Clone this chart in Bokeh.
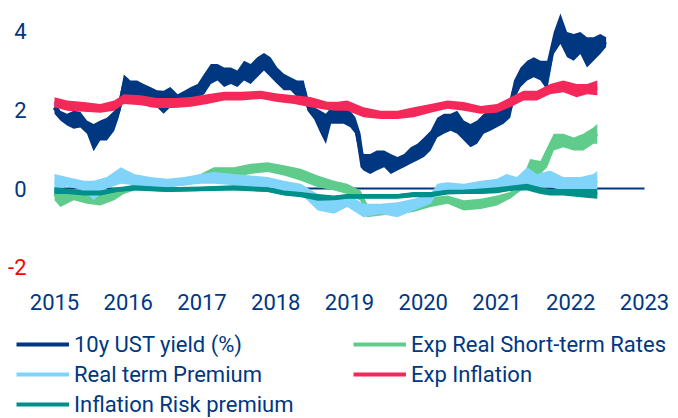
from bokeh.plotting import figure
from bokeh.models import ColumnDataSource, Legend, LegendItem
from bokeh.core.properties import value
from bokeh.embed import file_html
from bokeh.resources import INLINE

# ---------------- data (decimal years, % values) -------------
year_ticks = [2015, 2016, 2017, 2018, 2019, 2020, 2021, 2022, 2023]
year_labels = [str(y) for y in year_ticks]
y_ticks = [4, 2, 0, -2]
y_labels = ["4", "2", "0", "-2"]
y_label_colors = ["#003781", "#003781", "#003781", "#ff0000"]
zero_x = [2015, 2023]
zero_y = [0, 0]

# 10y UST yield (%) : upper / lower envelope of the daily series
ust_t = [2015.00, 2015.08, 2015.17, 2015.26, 2015.35, 2015.44, 2015.53, 2015.62, 2015.71, 2015.81,
         2015.87, 2015.94, 2016.03, 2016.12, 2016.21, 2016.30, 2016.39, 2016.48, 2016.57, 2016.67,
         2016.76, 2016.85, 2016.94, 2017.03, 2017.12, 2017.21, 2017.30, 2017.39, 2017.48, 2017.57,
         2017.66, 2017.75, 2017.84, 2017.93, 2018.02, 2018.11, 2018.20, 2018.29, 2018.38, 2018.43,
         2018.52, 2018.61, 2018.68, 2018.75, 2018.84, 2018.92, 2019.01, 2019.08, 2019.15, 2019.19,
         2019.28, 2019.37, 2019.47, 2019.56, 2019.65, 2019.74, 2019.83, 2019.92, 2020.01, 2020.10,
         2020.19, 2020.28, 2020.37, 2020.46, 2020.55, 2020.64, 2020.73, 2020.82, 2020.91, 2021.00,
         2021.09, 2021.18, 2021.23, 2021.32, 2021.41, 2021.50, 2021.59, 2021.68, 2021.77, 2021.86,
         2021.95, 2022.04, 2022.13, 2022.22, 2022.31, 2022.40, 2022.48]
ust_hi = [2.22, 1.98, 1.90, 1.98, 1.95, 1.73, 1.64, 1.73, 1.80, 1.98,
          2.20, 2.90, 2.75, 2.75, 2.66, 2.58, 2.50, 2.49, 2.58, 2.40,
          2.49, 2.58, 2.66, 2.92, 3.17, 3.17, 3.08, 3.08, 3.00, 3.25,
          3.17, 3.34, 3.45, 3.34, 3.08, 2.92, 2.83, 2.75, 2.75, 2.32,
          2.07, 1.98, 1.90, 2.07, 2.07, 2.07, 1.98, 1.81, 1.40, 0.88,
          0.88, 0.97, 0.97, 0.88, 0.80, 0.88, 1.05, 1.14, 1.30, 1.47,
          1.80, 1.90, 1.90, 1.98, 1.73, 1.64, 1.73, 1.90, 1.98, 2.07,
          2.07, 2.32, 2.75, 3.08, 3.25, 3.34, 3.25, 3.25, 3.98, 4.45,
          3.98, 3.93, 3.98, 3.85, 3.85, 3.93, 3.85]
ust_lo = [1.90, 1.73, 1.60, 1.52, 1.55, 1.39, 0.95, 1.22, 1.22, 1.47,
          1.80, 2.32, 2.24, 2.32, 2.15, 2.07, 2.07, 1.90, 2.07, 2.07,
          2.15, 2.24, 2.32, 2.40, 2.66, 2.75, 2.58, 2.66, 2.58, 2.75,
          2.66, 2.83, 3.00, 2.83, 2.66, 2.50, 2.50, 2.32, 2.32, 1.98,
          1.76, 1.39, 1.13, 1.65, 1.65, 1.65, 1.56, 1.39, 0.54, 0.46,
          0.37, 0.46, 0.54, 0.37, 0.46, 0.54, 0.63, 0.71, 0.80, 0.97,
          1.30, 1.39, 1.47, 1.39, 1.22, 1.05, 1.14, 1.39, 1.47, 1.56,
          1.65, 1.80, 2.24, 2.58, 2.75, 2.83, 2.75, 2.50, 3.42, 3.68,
          3.34, 3.25, 3.42, 3.08, 3.25, 3.42, 3.60]

# Exp Real Short-term Rates
real_t = [2015.00, 2015.08, 2015.26, 2015.44, 2015.62, 2015.81, 2015.94, 2016.17, 2016.53, 2016.80,
          2016.98, 2017.16, 2017.43, 2017.66, 2017.89, 2018.11, 2018.34, 2018.57, 2018.79, 2018.97,
          2019.15, 2019.24, 2019.42, 2019.65, 2019.87, 2020.10, 2020.33, 2020.55, 2020.78, 2021.00,
          2021.18, 2021.36, 2021.45, 2021.59, 2021.68, 2021.77, 2021.90, 2022.04, 2022.17, 2022.31,
          2022.36]
real_hi = [0.03, -0.05, -0.05, -0.14, -0.14, -0.05, 0.03, 0.16, 0.20, 0.25,
           0.37, 0.54, 0.54, 0.63, 0.67, 0.59, 0.50, 0.33, 0.20, 0.12,
           -0.05, -0.39, -0.43, -0.43, -0.35, -0.22, -0.18, -0.30, -0.26, -0.18,
           -0.09, 0.35, 0.75, 0.70, 1.05, 1.39, 1.39, 1.30, 1.39, 1.56,
           1.64]
real_lo = [-0.30, -0.47, -0.30, -0.39, -0.43, -0.30, -0.14, 0.00, 0.03, 0.08,
           0.16, 0.25, 0.29, 0.37, 0.42, 0.33, 0.20, 0.03, -0.05, -0.14,
           -0.31, -0.73, -0.69, -0.65, -0.60, -0.47, -0.39, -0.56, -0.52, -0.43,
           -0.26, 0.00, 0.37, 0.37, 0.54, 0.97, 1.05, 0.97, 0.97, 1.14,
           1.14]

# Real term Premium
rtp_t = [2015.00, 2015.17, 2015.40, 2015.53, 2015.71, 2015.90, 2016.08, 2016.30, 2016.53, 2016.76,
         2016.98, 2017.16, 2017.43, 2017.66, 2017.89, 2018.11, 2018.34, 2018.57, 2018.79, 2018.97,
         2019.19, 2019.42, 2019.65, 2019.87, 2020.10, 2020.19, 2020.33, 2020.55, 2020.78, 2021.00,
         2021.13, 2021.27, 2021.41, 2021.54, 2021.72, 2021.90, 2022.13, 2022.31, 2022.36]
rtp_hi = [0.37, 0.29, 0.20, 0.20, 0.29, 0.54, 0.37, 0.29, 0.25, 0.29,
          0.37, 0.42, 0.37, 0.33, 0.29, 0.20, 0.12, -0.14, -0.22, -0.14,
          -0.39, -0.39, -0.35, -0.26, -0.14, 0.12, 0.16, 0.12, 0.20, 0.25,
          0.37, 0.29, 0.54, 0.37, 0.46, 0.29, 0.29, 0.37, 0.45]
rtp_lo = [-0.05, 0.05, -0.05, -0.30, 0.00, 0.12, 0.08, 0.03, 0.03, 0.08,
          0.12, 0.12, 0.08, 0.03, 0.03, -0.05, -0.14, -0.56, -0.64, -0.47,
          -0.73, -0.65, -0.73, -0.56, -0.39, -0.14, -0.05, -0.09, -0.05, 0.00,
          0.03, 0.03, 0.12, 0.03, 0.03, -0.05, -0.05, -0.05, -0.05]

# Exp Inflation
inf_t = [2015.00, 2015.17, 2015.40, 2015.62, 2015.81, 2015.94, 2016.17, 2016.39, 2016.62, 2016.85,
         2017.07, 2017.30, 2017.53, 2017.80, 2018.02, 2018.25, 2018.47, 2018.70, 2018.84, 2018.97,
         2019.19, 2019.42, 2019.65, 2019.87, 2020.10, 2020.33, 2020.55, 2020.78, 2021.00, 2021.18,
         2021.36, 2021.54, 2021.72, 2021.90, 2022.08, 2022.22, 2022.36]
inf_hi = [2.32, 2.24, 2.20, 2.15, 2.24, 2.40, 2.37, 2.30, 2.30, 2.33,
          2.40, 2.46, 2.46, 2.49, 2.42, 2.37, 2.33, 2.21, 2.21, 2.24,
          2.07, 1.98, 1.98, 2.07, 2.15, 2.24, 2.20, 2.10, 2.15, 2.32,
          2.49, 2.49, 2.66, 2.75, 2.66, 2.66, 2.75]
inf_lo = [2.07, 1.98, 1.95, 1.93, 1.98, 2.15, 2.12, 2.05, 2.05, 2.08,
          2.15, 2.24, 2.24, 2.28, 2.20, 2.15, 2.07, 2.00, 1.98, 1.98,
          1.81, 1.77, 1.77, 1.81, 1.93, 2.03, 1.98, 1.90, 1.93, 2.07,
          2.24, 2.24, 2.40, 2.45, 2.32, 2.40, 2.37]

# Inflation Risk premium
irp_t = [2015.00, 2015.17, 2015.40, 2015.62, 2015.85, 2016.08, 2016.53, 2016.98, 2017.43, 2017.89,
         2018.11, 2018.34, 2018.57, 2018.79, 2018.97, 2019.19, 2019.42, 2019.65, 2019.87, 2020.10,
         2020.33, 2020.55, 2020.78, 2021.00, 2021.23, 2021.41, 2021.59, 2021.72, 2021.90, 2022.13,
         2022.36]
irp_hi = [0.03, 0.00, -0.05, -0.05, 0.03, 0.08, 0.03, 0.05, 0.08, 0.03,
          -0.05, -0.09, -0.14, -0.18, -0.14, -0.14, -0.14, -0.14, -0.09, -0.09,
          -0.03, -0.03, 0.00, 0.03, 0.08, 0.12, 0.03, -0.01, -0.01, -0.01,
          -0.01]
irp_lo = [-0.14, -0.14, -0.18, -0.18, -0.09, -0.05, -0.09, -0.07, -0.05, -0.09,
          -0.18, -0.22, -0.31, -0.30, -0.26, -0.26, -0.26, -0.26, -0.22, -0.22,
          -0.15, -0.14, -0.14, -0.12, -0.05, -0.05, -0.14, -0.18, -0.18, -0.22,
          -0.26]

series_names = ["10y UST yield (%)", "Exp Real Short-term Rates", "Real term Premium",
                "Exp Inflation", "Inflation Risk premium"]
series_colors = ["#003781", "#5fcc8b", "#80d4fa", "#f5285a", "#00908a"]
series_data = [(ust_t, ust_hi, ust_lo), (real_t, real_hi, real_lo), (rtp_t, rtp_hi, rtp_lo),
               (inf_t, inf_hi, inf_lo), (irp_t, irp_hi, irp_lo)]

TEXT_BLUE = "#003781"
FONT = "Roboto"
FS = "22px"

# layout: 2015 at px 54, 73.75 px per year; 0 at px 188, 39.3 px per unit
PX_YEAR, PX_UNIT = 73.75, 39.3
W, H = 678, 418
x_start = 2015 - 54 / PX_YEAR
x_end = 2015 + (W - 54) / PX_YEAR
y_top = 188 / PX_UNIT
y_bot = (188 - H) / PX_UNIT

p = figure(width=W, height=H, output_backend="svg", toolbar_location=None,
           x_range=(x_start, x_end), y_range=(y_bot, y_top),
           min_border=0, x_axis_type=None, y_axis_type=None)
p.grid.visible = False
p.outline_line_color = None
p.background_fill_color = "white"
p.border_fill_color = "white"

# zero line (category axis crossing at 0), beneath the series
p.line(x=zero_x, y=zero_y, line_color=TEXT_BLUE, line_width=2)

items = []
for name, color, (t, hi, lo) in zip(series_names, series_colors, series_data):
    src = ColumnDataSource(dict(t=t, hi=hi, lo=lo, mid=[(a + b) / 2 for a, b in zip(hi, lo)]))
    p.varea(x="t", y1="lo", y2="hi", source=src, fill_color=color)
    r = p.line(x="t", y="mid", source=src, line_color=color, line_width=4)
    items.append(LegendItem(label=name, renderers=[r]))

# y tick labels (right-aligned left of the first year), x tick labels under the -2 level
ysrc = ColumnDataSource(dict(x=[year_ticks[0]] * len(y_ticks), y=y_ticks, t=y_labels, c=y_label_colors))
p.text(x="x", y="y", text="t", source=ysrc, text_color="c", x_offset=-28,
       text_align="right", text_baseline="middle",
       text_font=value(FONT), text_font_size=value(FS))
xsrc = ColumnDataSource(dict(x=year_ticks, y=[y_ticks[-1]] * len(year_ticks), t=year_labels))
p.text(x="x", y="y", text="t", source=xsrc, text_color=TEXT_BLUE, y_offset=35,
       text_align="center", text_baseline="middle",
       text_font=value(FONT), text_font_size=value(FS))

# legend: two columns, row-major order as in the reference
legend_items = [items[0], items[2], items[4], items[1], items[3]]
legend = Legend(items=legend_items, ncols=2, location=(16, -1),
                label_text_font=FONT, label_text_font_size=FS, label_text_color=TEXT_BLUE,
                glyph_width=53, glyph_height=30, label_height=30, label_standoff=5,
                label_width=279, spacing=0, padding=0, margin=0,
                border_line_color=None, background_fill_alpha=0)
p.add_layout(legend, "center")

open("out.html", "w").write(file_html(p, INLINE))
